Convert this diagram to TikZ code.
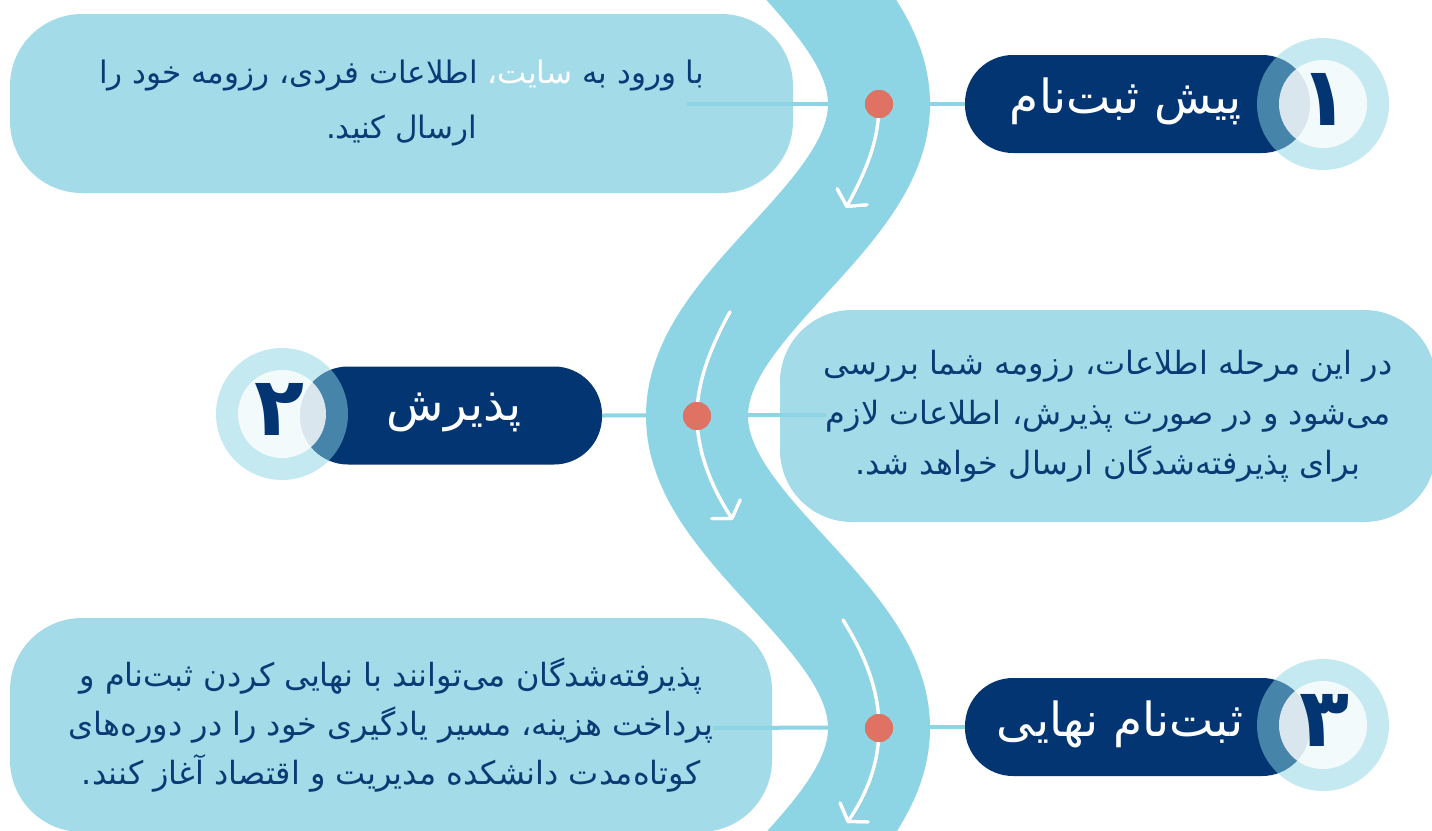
\documentclass[tikz,border=0pt]{standalone}
\usepackage{fontspec}
\usetikzlibrary{arrows.meta}
\TeXXeTstate=1
\newfontfamily\farsi[Script=Arabic]{DejaVu Sans}
\definecolor{roadblue}{HTML}{8DD4E4}
\definecolor{boxblue}{HTML}{A3DCE8}
\definecolor{navy}{HTML}{023571}
\definecolor{dotred}{HTML}{DF7262}
\definecolor{inkblue}{HTML}{0C3A74}
\definecolor{arrowshade}{HTML}{6AAFC0}

\begin{document}
\begin{tikzpicture}[x=1pt, y=-1pt,
        descbox/.style={fill=boxblue, rounded corners=72pt, text=inkblue, align=center, inner sep=0pt},
        pill/.style={fill=navy, rounded corners=48pt, minimum height=98pt, inner sep=0pt},
        pilltext/.style={text=white, font=\farsi\fontsize{47}{48}\selectfont},
        halo/.style={circle, fill=roadblue, fill opacity=0.5, minimum size=132pt, inner sep=0pt},
        core/.style={circle, fill=white, fill opacity=0.8, minimum size=88pt, inner sep=0pt},
        numtext/.style={text=navy, font=\farsi\bfseries\fontsize{82}{82}\selectfont},
        waypoint/.style={circle, fill=dotred, minimum size=28pt, inner sep=0pt},
        link/.style={draw=roadblue, line width=4pt},
        road/.style={draw=roadblue, line width=102pt},
        walk/.style={draw=white, line width=3.5pt, line cap=round,
            -{Straight Barb[length=11pt, width=34pt, round]},
            preaction={draw=arrowshade, transform canvas={xshift=1.2pt, yshift=-1.6pt}}},
    ]
    \useasboundingbox (0,0) rectangle (1432,830);
    \fill[white] (0,0) rectangle (1432,830);
    \clip (0,0) rectangle (1432,830);

    % text boxes (line 1 of b1 is set left to right by pieces, for the white word)
    \node[descbox, minimum width=783pt, minimum height=179pt,
        font=\farsi\fontsize{31}{55}\selectfont] (b1) at (401.5,103.5)
        {\beginR اطلاعات فردی، رزومه خود را\endR{} {\color{white}سایت،} \beginR با ورود به\endR\\
         \beginR ارسال کنید.\endR};
    \node[descbox, minimum width=656pt, minimum height=212pt,
        font=\farsi\fontsize{32}{50}\selectfont] (b2) at (1108,416)
        {\beginR در این مرحله اطلاعات، رزومه شما بررسی\endR\\
         \beginR می‌شود و در صورت پذیرش، اطلاعات لازم\endR\\
         \beginR برای پذیرفته‌شدگان ارسال خواهد شد.\endR};
    \node[descbox, minimum width=762pt, minimum height=214pt,
        font=\farsi\fontsize{32}{49}\selectfont] (b3) at (391,725)
        {\beginR پذیرفته‌شدگان می‌توانند با نهایی کردن ثبت‌نام و\endR\\
         \beginR پرداخت هزینه، مسیر یادگیری خود را در دوره‌های\endR\\
         \beginR کوتاه‌مدت دانشکده مدیریت و اقتصاد آغاز کنند.\endR};

    % step pills
    \node[pill, minimum width=345pt] (p1) at (1137.5,104) {};
    \node[pill, minimum width=302pt] (p2) at (451,415.5) {};
    \node[pill, minimum width=345pt] (p3) at (1137.5,727) {};
    \node[pilltext] (t1) at (1126,101) {\beginR پیش ثبت‌نام\endR};
    \node[pilltext] (t2) at (454,412) {\beginR پذیرش\endR};
    \node[pilltext] (t3) at (1120,724) {\beginR ثبت‌نام نهایی\endR};

    % number badges
    \node[halo] (o1) at (1323,104) {};
    \node[core] (i1) at (1323,104) {};
    \node[numtext] (n1) at (1325,99) {۱};
    \node[halo] (o2) at (282,414) {};
    \node[core] (i2) at (282,414) {};
    \node[numtext] (n2) at (280,409) {۲};
    \node[halo] (o3) at (1323,725) {};
    \node[core] (i3) at (1323,725) {};
    \node[numtext] (n3) at (1325,720) {۳};

    % connectors to the boxes
    \coordinate (e1) at (687,104);
    \coordinate (e2) at (826,415);
    \coordinate (e3) at (713,728);
    \draw[link] (p1.west) -- (e1);
    \draw[link] (p2.east) -- (e2);
    \draw[link] (p3.west) -- (e3);

    % the road
    \draw[road] plot[domain=-80:900, samples=140, smooth, variable=\t]
        ({788+91*cos(0.5769*(\t-104))}, \t);

    % stops and arrows along the road
    \node[waypoint] (d1) at (879,104) {};
    \node[waypoint] (d2) at (697,416) {};
    \node[waypoint] (d3) at (879,728) {};
    \coordinate (a1e) at (846,208);
    \coordinate (a2s) at (730,312);
    \coordinate (a2e) at (733,520);
    \coordinate (a3s) at (843,620);
    \coordinate (a3e) at (847,823);
    \draw[walk] (d1.center) .. controls (879,141) and (866,171) .. (a1e);
    \draw[walk] (a2s) .. controls (708,352) and (697,385) .. (d2.center)
        .. controls (697,450) and (710,485) .. (a2e);
    \draw[walk] (a3s) .. controls (865,655) and (879,690) .. (d3.center)
        .. controls (879,765) and (866,795) .. (a3e);
    \node[waypoint] at (d1) {};
    \node[waypoint] at (d2) {};
    \node[waypoint] at (d3) {};
\end{tikzpicture}
\end{document}
